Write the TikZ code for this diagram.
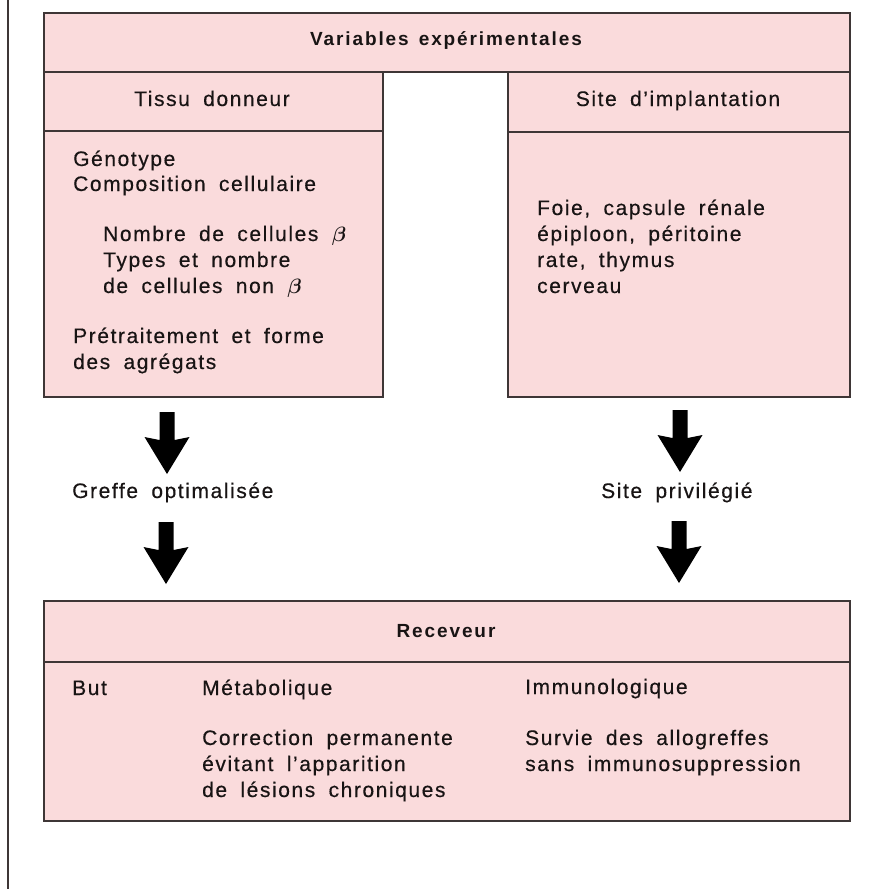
\documentclass[tikz,border=0pt]{standalone}
\usepackage{amsmath}
\usepackage{fontspec}
\setmainfont{Liberation Sans}
\newfontfamily\regfont{Liberation Sans}[LetterSpace=7.5, WordSpace=1.8, FakeBold=0.4]
\newfontfamily\boldfont{Liberation Sans Bold}[LetterSpace=10, WordSpace=1.4]
\definecolor{pinkc}{RGB}{250,219,220}
\definecolor{linec}{RGB}{62,54,54}
\definecolor{textc}{RGB}{24,20,20}
\newcommand{\betaglyph}{\ensuremath{\boldsymbol{\beta}}}
\begin{document}
\begin{tikzpicture}[x=1pt,y=-1pt,
  box/.style={draw=linec, fill=pinkc, line width=1.8pt, inner sep=0pt, anchor=north west},
  txt/.style={anchor=base west, inner sep=0pt, text=textc, font=\regfont\fontsize{21}{26}\selectfont},
  ctxt/.style={anchor=base, inner sep=0pt, text=textc, font=\regfont\fontsize{21}{26}\selectfont},
  ttl/.style={anchor=base, inner sep=0pt, text=textc, font=\boldfont\fontsize{19}{24}\selectfont},
  bigarrow/.pic={\fill[black] (-7.5,0) -- (7.5,0) -- (7.5,28) -- (22.5,25) -- (0,62) -- (-22.5,25) -- (-7.5,28) -- cycle;}]
\useasboundingbox (0,0) rectangle (872,889);
\fill[white] (0,0) rectangle (872,889);
\draw[linec, line width=1.6pt] (8,0) -- (8,889);

% boxes
\node[box, minimum width=806pt, minimum height=59pt] (vars) at (43,12) {};
\node[box, minimum width=339pt, minimum height=59pt] (tissuhead) at (43,71) {};
\node[box, minimum width=339pt, minimum height=266pt] (tissubody) at (43,130) {};
\node[box, minimum width=342pt, minimum height=60pt] (sitehead) at (507,71) {};
\node[box, minimum width=342pt, minimum height=265pt] (sitebody) at (507,131) {};
\node[box, minimum width=806pt, minimum height=61pt] (recvhead) at (43,600) {};
\node[box, minimum width=806pt, minimum height=159pt] (recvbody) at (43,661) {};

% headers
\node[ttl] (varst) at (446,45) {Variables expérimentales};
\node[ctxt] (tissut) at (212,106) {Tissu donneur};
\node[ctxt] (sitet) at (678,106) {Site d’implantation};
\node[ttl] (recvt) at (446,637) {Receveur};

% tissu donneur body
\node[txt] (t1) at (73,166) {Génotype};
\node[txt] (t2) at (73,191) {Composition cellulaire};
\node[txt] (t3) at (103,241) {Nombre de cellules \betaglyph};
\node[txt] (t4) at (103,267) {Types et nombre};
\node[txt] (t5) at (103,293) {de cellules non \betaglyph};
\node[txt] (t6) at (73,343) {Prétraitement et forme};
\node[txt] (t7) at (73,369) {des agrégats};

% site body
\node[txt] (s1) at (537,215) {Foie, capsule rénale};
\node[txt] (s2) at (537,241) {épiploon, péritoine};
\node[txt] (s3) at (537,267) {rate, thymus};
\node[txt] (s4) at (537,293) {cerveau};

% arrows and intermediate labels
\pic (a1) at (167,412) {bigarrow};
\node[txt] (greffe) at (72,498) {Greffe optimalisée};
\pic (a2) at (166,522) {bigarrow};
\pic (a3) at (680,410) {bigarrow};
\node[txt] (privil) at (601,498) {Site privilégié};
\pic (a4) at (679,521) {bigarrow};

% receveur body
\node[txt] (but) at (72,695) {But};
\node[txt] (meta) at (202,695) {Métabolique};
\node[txt] (immu) at (525,694) {Immunologique};
\node[txt] (c1) at (202,745) {Correction permanente};
\node[txt] (c2) at (202,771) {évitant l’apparition};
\node[txt] (c3) at (202,797) {de lésions chroniques};
\node[txt] (i1) at (525,745) {Survie des allogreffes};
\node[txt] (i2) at (525,771) {sans immunosuppression};
\end{tikzpicture}
\end{document}
